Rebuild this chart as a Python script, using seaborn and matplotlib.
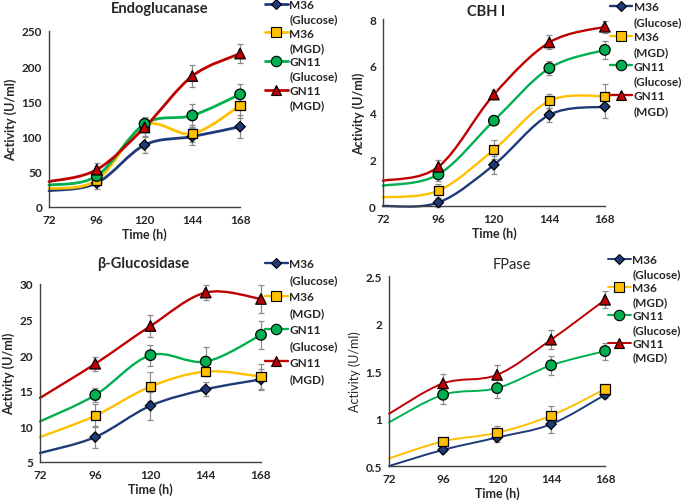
import numpy as np
import pandas as pd
import matplotlib
matplotlib.use('Agg')
import matplotlib.pyplot as plt
from matplotlib.path import Path
from matplotlib.patches import PathPatch
from matplotlib.lines import Line2D
import seaborn as sns

# ── Data ──────────────────────────────────────────────────────────────────────
time_h = [72, 96, 120, 144, 168]
strain_labels = ['M36', 'M36', 'GN11', 'GN11']
medium_labels = ['(Glucose)', '(MGD)', '(Glucose)', '(MGD)']
series_names = ['M36 (Glucose)', 'M36 (MGD)', 'GN11 (Glucose)', 'GN11 (MGD)']

# Endoglucanase (U/ml), values at 72..168 h; errors at 96..168 h
endo_vals = [[23, 34, 88, 100, 114],
             [26, 38, 116, 104, 144],
             [31, 44, 118, 130, 160],
             [36, 53, 113, 186, 218]]
endo_errs = [[9, 11, 12, 16],
             [8, 10, 12, 18],
             [8, 10, 16, 14],
             [10, 12, 16, 14]]

# CBH I
cbh_vals = [[0.0, 0.15, 1.76, 3.9, 4.25],
            [0.37, 0.66, 2.41, 4.5, 4.7],
            [0.87, 1.35, 3.65, 5.9, 6.68],
            [1.08, 1.68, 4.77, 7.0, 7.67]]
cbh_errs = [[0.2, 0.4, 0.3, 0.5],
            [0.3, 0.4, 0.3, 0.5],
            [0.3, 0.1, 0.3, 0.4],
            [0.3, 0.2, 0.3, 0.25]]

# beta-Glucosidase
bglu_vals = [[6.26, 8.5, 12.9, 15.2, 16.6],
             [8.5, 11.5, 15.6, 17.7, 17.0],
             [10.7, 14.4, 20.0, 19.1, 22.85],
             [14.0, 18.8, 24.1, 28.8, 27.9]]
bglu_errs = [[1.5, 2.0, 1.0, 1.5],
             [1.6, 2.0, 0.6, 1.8],
             [1.0, 1.5, 2.0, 2.0],
             [1.0, 1.5, 1.0, 2.0]]

# FPase
fpase_vals = [[0.5, 0.67, 0.80, 0.94, 1.25],
              [0.58, 0.76, 0.85, 1.03, 1.31],
              [0.96, 1.25, 1.32, 1.56, 1.71],
              [1.05, 1.37, 1.46, 1.83, 2.25]]
fpase_errs = [[0.02, 0.05, 0.09, 0.03],
              [0.02, 0.07, 0.10, 0.03],
              [0.10, 0.10, 0.10, 0.09],
              [0.10, 0.10, 0.10, 0.09]]

colors = ['#1F3A78', '#FFC000', '#00B050', '#C00000']
markers = ['D', 's', 'o', '^']
marker_sizes = [28, 44, 58, 58]
legend_ms = [5, 7, 7.5, 7.5]

panels = [
    dict(title='Endoglucanase', vals=endo_vals, errs=endo_errs,
         yticks=[0, 50, 100, 150, 200, 250], ylabels=['0', '50', '100', '150', '200', '250'],
         pos=[0.0715, 0.5857, 0.279, 0.3506], lw=2.0, bold=True,
         title_x=0.58, title_pad=14, leg=(0.387, 1.0), leg_sp=0.28),
    dict(title='CBH I', vals=cbh_vals, errs=cbh_errs,
         yticks=[0, 2, 4, 6, 8], ylabels=['0', '2', '4', '6', '8'],
         pos=[0.559, 0.5876, 0.324, 0.3725], lw=1.7, bold=True,
         title_x=0.464, title_pad=3, leg=(0.890, 0.996), leg_sp=0.33),
    dict(title='β-Glucosidase', vals=bglu_vals, errs=bglu_errs,
         yticks=[5, 10, 15, 20, 25, 30], ylabels=['5', '10', '15', '20', '25', '30'],
         pos=[0.0584, 0.0777, 0.3226, 0.3546], lw=1.7, bold=True,
         title_x=0.466, title_pad=12, leg=(0.387, 0.484), leg_sp=0.46),
    dict(title='FPase', vals=fpase_vals, errs=fpase_errs,
         yticks=[0.5, 1.0, 1.5, 2.0, 2.5], ylabels=['0.5', '1', '1.5', '2', '2.5'],
         pos=[0.568, 0.0697, 0.3153, 0.3785], lw=1.4, bold=False,
         title_x=0.57, title_pad=6, leg=(0.888, 0.492), leg_sp=0.25),
]


def smooth_path(x, y):
    # Excel-style smoothed line drawn as cubic Bezier segments
    pts = np.column_stack([x, y]).astype(float)
    ext = np.vstack([pts[0], pts, pts[-1]])
    verts = [pts[0]]
    codes = [Path.MOVETO]
    for i in range(len(pts) - 1):
        p0, p1, p2, p3 = ext[i], ext[i + 1], ext[i + 2], ext[i + 3]
        verts += [p1 + (p2 - p0) / 6, p2 - (p3 - p1) / 6, p2]
        codes += [Path.CURVE4] * 3
    return Path(verts, codes)


sns.set_style('white')
plt.rcParams['font.family'] = ['Lato', 'DejaVu Sans']

fig = plt.figure(figsize=(6.85, 5.02), dpi=100)

for p in panels:
    ax = fig.add_axes(p['pos'])
    ax.set_xlim(72, 168)
    ax.set_ylim(p['yticks'][0], p['yticks'][-1])

    # smoothed lines
    for vals, c in zip(p['vals'], colors):
        patch = PathPatch(smooth_path(time_h, vals), facecolor='none', edgecolor=c,
                          lw=p['lw'], zorder=2, clip_on=False, capstyle='round')
        ax.add_patch(patch)

    # error bars
    for vals, errs in zip(p['vals'], p['errs']):
        eb = ax.errorbar(time_h[1:], vals[1:], yerr=errs, fmt='none', ecolor='#8c8c8c',
                         elinewidth=0.9, capsize=2.5, capthick=0.9, zorder=3)
        for a in list(eb.lines[1]) + list(eb.lines[2]):
            a.set_clip_on(False)

    # markers
    df = pd.DataFrame({
        'time': np.tile(time_h[1:], 4),
        'activity': np.concatenate([v[1:] for v in p['vals']]),
        'series': np.repeat(series_names, 4),
    })
    sns.scatterplot(data=df, x='time', y='activity', hue='series', style='series',
                    size='series', palette=dict(zip(series_names, colors)),
                    markers=dict(zip(series_names, markers)),
                    sizes=dict(zip(series_names, marker_sizes)),
                    edgecolor='black', linewidth=0.9, legend=False, ax=ax,
                    zorder=4, clip_on=False)

    # axes styling
    for s in ['top', 'right']:
        ax.spines[s].set_visible(False)
    for s in ['left', 'bottom']:
        ax.spines[s].set_color('#404040')
        ax.spines[s].set_linewidth(1.0)
    ax.set_xticks(time_h)
    ax.set_xticklabels([str(t) for t in time_h], fontsize=8.5, fontweight='bold')
    ax.set_yticks(p['yticks'])
    ax.set_yticklabels(p['ylabels'], fontsize=8.5, fontweight='bold')
    ax.tick_params(direction='inout', length=6, width=1.0, color='#404040', pad=2)
    ax.set_xlabel('Time (h)', fontsize=9, fontweight='bold', labelpad=1.5)
    ax.set_ylabel('Activity (U/ml)', fontsize=9,
                  fontweight='bold' if p['bold'] else 'normal', labelpad=3)
    ax.set_title(p['title'], fontsize=10.5, fontweight='bold' if p['bold'] else 'normal',
                 x=p['title_x'], pad=p['title_pad'])

    # legend: one entry per series, second row carries the medium
    handles, labels = [], []
    for st, md, c, m, ms in zip(strain_labels, medium_labels, colors, markers, legend_ms):
        handles.append(Line2D([], [], color=c, lw=p['lw'], marker=m, markersize=ms,
                              markerfacecolor=c, markeredgecolor='black', markeredgewidth=0.8))
        labels.append(st)
        handles.append(Line2D([], [], linestyle='none'))
        labels.append(md)
    ax.legend(handles, labels, loc='upper left', bbox_to_anchor=p['leg'],
              bbox_transform=fig.transFigure, frameon=False,
              prop={'size': 8.5, 'weight': 'bold'}, handlelength=1.9,
              handletextpad=0.15, labelspacing=p['leg_sp'], borderaxespad=0, borderpad=0)

fig.savefig('out.png', dpi=100)
